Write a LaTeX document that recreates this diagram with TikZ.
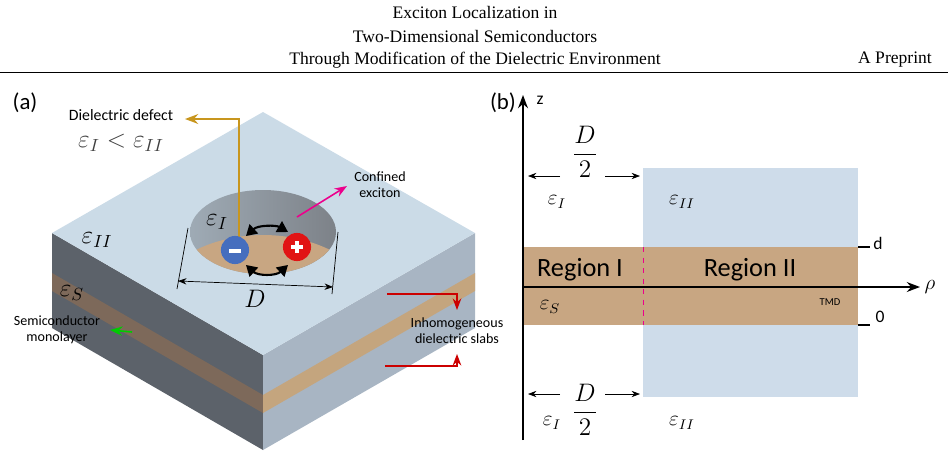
\documentclass[tikz,border=0pt]{standalone}
\usepackage{fontspec}
\setmainfont{Liberation Serif}
\newfontfamily\calf{Carlito}
\usetikzlibrary{arrows.meta}
\definecolor{topf}{RGB}{203,219,231}
\definecolor{leftf}{RGB}{92,98,106}
\definecolor{rightf}{RGB}{168,181,195}
\definecolor{bandL}{RGB}{125,105,90}
\definecolor{bandR}{RGB}{196,165,126}
\definecolor{tmd}{RGB}{200,166,130}
\definecolor{lb}{RGB}{206,220,234}
\definecolor{gold}{RGB}{200,150,30}
\definecolor{elc}{RGB}{70,110,190}
\definecolor{hoc}{RGB}{225,20,20}
\begin{document}
\begin{tikzpicture}[x=0.02cm,y=-0.02cm,
  lab/.style={font=\calf\fontsize{8}{9}\selectfont,align=center},
  eps/.style={font=\fontsize{14}{14}\selectfont},
  sfl/.style={font=\calf\fontsize{13}{13}\selectfont}]
\useasboundingbox (0,0) rectangle (948,457);
% header
\node (t1) at (475,12) {Exciton Localization in};
\node (t2) at (475,36) {Two-Dimensional Semiconductors};
\node (t3) at (475,60) {Through Modification of the Dielectric Environment};
\node (pp) at (895,60) {\textsc{A Preprint}};
\draw[line width=0.4pt] (0,72) -- (948,72);
% panel (a)
\node[sfl] (la) at (25,103) {(a)};
\fill[leftf] (52,233) -- (263,355) -- (263,450) -- (52,328) -- cycle;
\fill[rightf] (263,355) -- (475,233) -- (475,328) -- (263,450) -- cycle;
\fill[bandL] (52,273) -- (263,395) -- (263,413) -- (52,291) -- cycle;
\fill[bandR] (263,395) -- (475,273) -- (475,291) -- (263,413) -- cycle;
\fill[topf] (52,233) -- (263,112) -- (475,233) -- (263,355) -- cycle;
% hole
\begin{scope}
\clip (263,232) ellipse [x radius=73, y radius=42];
\shade[left color=topf!60!leftf, right color=leftf!80] (190,190) rectangle (337,275);
\fill[tmd] (185,256) .. controls (230,228) and (296,228) .. (341,256) -- (341,280) -- (185,280) -- cycle;
\end{scope}
\node[eps] (eI) at (217,222) {$\varepsilon_I$};
\node[eps] (eII) at (97,240) {$\varepsilon_{II}$};
\node[eps] (eS) at (72,293) {$\varepsilon_S$};
% charges
\coordinate (gs) at (239,245); \coordinate (gc) at (239,119); \coordinate (gend) at (185,119);
\draw[gold, line width=1pt, -{Stealth}] (gs) -- (gc) -- (gend);
\node[circle, fill=elc, minimum size=16pt, inner sep=0] (el) at (235,250) {};
\node[circle, fill=hoc, minimum size=16pt, inner sep=0] (ho) at (297,247) {};
\draw[white, line width=2pt] (229,251) -- (241,251);
\draw[white, line width=2pt] (291,247) -- (303,247) (297,241) -- (297,253);
\draw[line width=1.2pt, {Triangle[]}-{Triangle[]}] (246,236) .. controls (258,225) and (276,225) .. (288,232);
\draw[line width=1.2pt, {Triangle[]}-{Triangle[]}] (246,265) .. controls (258,276) and (276,276) .. (288,265);
\node[lab, font=\calf\fontsize{9}{10}\selectfont] (dd) at (121,115) {Dielectric defect};
\node[eps, text=black!75] (ineq) at (121,143) {$\varepsilon_I<\varepsilon_{II}$};
% D
\coordinate (d1) at (188,228); \coordinate (d2) at (177,289);
\coordinate (d3) at (338,232); \coordinate (d4) at (332,294);
\draw (d1) -- (d2) (d3) -- (d4);
\draw[{Stealth}-{Stealth}] (178,281) -- (333,287);
\node[eps] (Dl) at (255,299) {$D$};
% annotations
\coordinate (m1) at (297,217); \coordinate (m2) at (347,186);
\draw[magenta, line width=0.9pt, -{Stealth}] (m1) -- (m2);
\node[lab] (ce) at (380,185) {Confined\\exciton};
\node[lab] (sm) at (57,330) {Semiconductor\\monolayer};
\coordinate (g1) at (132,332); \coordinate (g2) at (110,330);
\draw[green!80!black, line width=0.9pt, -{Stealth}] (g1) -- (g2);
\node[lab] (ids) at (457,331) {Inhomogeneous\\dielectric slabs};
\coordinate (r1) at (387,294); \coordinate (r2) at (457,294); \coordinate (r3) at (457,310);
\coordinate (r4) at (385,366); \coordinate (r5) at (457,366); \coordinate (r6) at (457,354);
\draw[red!80!black, line width=0.8pt, -{Stealth}] (r1) -- (r2) -- (r3);
\draw[red!80!black, line width=0.8pt, -{Stealth}] (r4) -- (r5) -- (r6);
% panel (b)
\node[sfl] (lbb) at (503,103) {(b)};
\fill[lb] (643,168) rectangle (858,397);
\fill[tmd] (523,247) rectangle (858,325);
\draw[magenta, dashed] (643,247) -- (643,325);
\coordinate (o) at (523,440); \coordinate (zt) at (523,95);
\draw[line width=1pt, -{Stealth}] (o) -- (zt);
\node[font=\calf] (z) at (540,100) {z};
\coordinate (x0) at (523,287); \coordinate (xt) at (920,287);
\draw[line width=1pt, -{Stealth}] (x0) -- (xt);
\node[font=\fontsize{13}{13}\selectfont] (rho) at (930,287) {$\rho$};
\node[font=\Large] (D1) at (585,152) {$\displaystyle\frac{D}{2}$};
\draw[-{Stealth}] (560,176) -- (528,176);
\draw[-{Stealth}] (605,176) -- (640,176);
\node[font=\Large] (D2) at (585,410) {$\displaystyle\frac{D}{2}$};
\draw[-{Stealth}] (560,394) -- (528,394);
\draw[-{Stealth}] (605,394) -- (640,394);
\node[font=\large] (b1) at (557,202) {$\varepsilon_I$};
\node[font=\large] (b2) at (682,202) {$\varepsilon_{II}$};
\node[font=\large] (b3) at (552,423) {$\varepsilon_I$};
\node[font=\large] (b4) at (682,423) {$\varepsilon_{II}$};
\node[font=\large] (b5) at (550,307) {$\varepsilon_S$};
\node[font=\calf\fontsize{15}{15}\selectfont] (r1l) at (580,270) {Region I};
\node[font=\calf\fontsize{15}{15}\selectfont] (r2l) at (750,270) {Region II};
\node[font=\calf\fontsize{6}{6}\selectfont] (tm) at (830,302) {TMD};
\draw[line width=1.2pt] (858,247) -- (870,247) (858,325) -- (870,325);
\node[font=\calf] (dl) at (878,243) {d};
\node[font=\calf] (zl) at (880,317) {0};
\end{tikzpicture}
\end{document}
